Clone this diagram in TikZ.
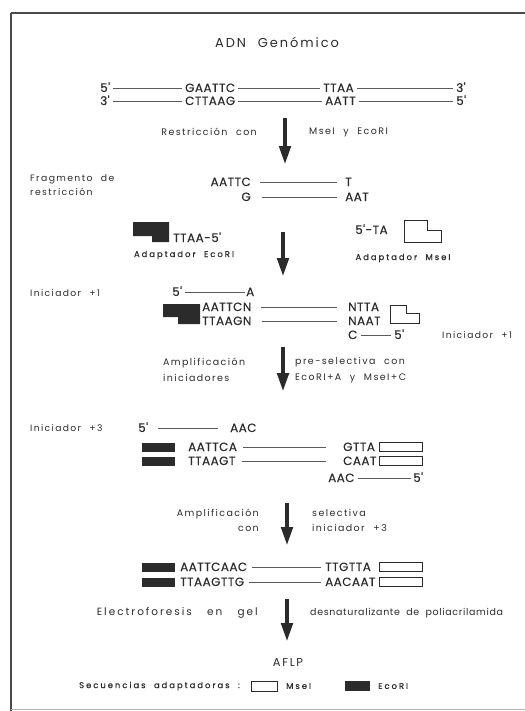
\documentclass[tikz,border=0pt]{standalone}
\usepackage{fontspec}
\setmainfont{Poppins}
\newfontfamily\seqfam[LetterSpace=4, FakeBold=0.3]{Poppins}
\newfontfamily\labfam[LetterSpace=15, WordSpace=2.2]{Poppins}
\newfontfamily\labwide[LetterSpace=19, WordSpace=3.2]{Poppins}
\newfontfamily\labnarrow[LetterSpace=7, WordSpace=2]{Poppins}
\newfontfamily\tagfam[LetterSpace=24, WordSpace=2, FakeBold=0.6]{Poppins}
\usetikzlibrary{arrows.meta, positioning, calc}
\definecolor{ink}{HTML}{2B2B2B}
\definecolor{strandc}{HTML}{5A5A5A}
\definecolor{frameC}{HTML}{4A4A4A}
\tikzset{
  % DNA sequence text (strand ends sit at mid cap height)
  seq/.style={inner sep=0pt, text height=8bp, text depth=0pt,
    font=\seqfam\fontsize{12}{14}\selectfont, text=ink},
  % step labels, one or two lines
  lab/.style={inner sep=0pt, align=left,
    font=\labfam\fontsize{9.5}{15}\selectfont, text=ink},
  % small captions (adaptors, legend)
  tag/.style={inner sep=0pt, font=\tagfam\fontsize{8.4}{10}\selectfont, text=ink},
  strand/.style={draw=strandc, line width=0.7bp, shorten <=3bp, shorten >=3bp},
  flow/.style={draw=ink, line width=4.5bp, -{Triangle[length=19bp,width=11bp]}},
  % adaptor shapes (EcoRI = filled, MseI = open)
  eco/.style={fill=ink},
  mse/.style={draw=ink, line width=0.8bp, fill=white},
  ecobar/.style={fill=ink, minimum width=33bp, minimum height=9bp, inner sep=0pt},
  msebox/.style={draw=ink, line width=0.8bp, minimum width=43bp, minimum height=9bp, inner sep=0pt},
}

\begin{document}
\begin{tikzpicture}[x=1bp, y=-1bp]
\useasboundingbox (0,0) rectangle (525,711);

% ── frame ────────────────────────────────────────────────
\draw[frameC, line width=1.4bp] (11,13) -- (525,13);
\draw[frameC, line width=2.4bp] (11,13) -- (11,711);
\draw[frameC!40, line width=0.8bp] (11,709) -- (525,709);

\node[font=\labfam\fontsize{13}{15}\selectfont, text=ink] (title) at (277,42) {ADN Genómico};

% ── genomic DNA ──────────────────────────────────────────
\node[seq, anchor=west] (s1a) at (100,88) {5'};
\node[seq, anchor=west] (s1b) at (185,88) {GAATTC};
\node[seq, anchor=west] (s1c) at (323,88) {TTAA};
\node[seq, anchor=west] (s1d) at (456,88) {3'};
\node[seq, anchor=west] (s2a) at (100,101) {3'};
\node[seq, anchor=west] (s2b) at (185,101) {CTTAAG};
\node[seq, anchor=west] (s2c) at (325,101) {AATT};
\node[seq, anchor=west] (s2d) at (456,101) {5'};
\draw[strand] (s1a) -- (s1b);
\draw[strand] (s1b) -- (s1c);
\draw[strand] (s1c) -- (s1d);
\draw[strand] (s2a) -- (s2b);
\draw[strand] (s2b) -- (s2c);
\draw[strand] (s2c) -- (s2d);

\coordinate (a1s) at (285,118);
\coordinate (a1e) at (285,165);
\draw[flow] (a1s) -- (a1e);
\node[lab, anchor=east] (r1L) at (257,132) {Restricción con};
\node[lab, anchor=west] (r1R) at (309,132) {MseI y EcoRI};

% ── restriction fragment ─────────────────────────────────
\node[lab, anchor=west, font=\labfam\fontsize{9.3}{14}\selectfont] (fragL) at (30,185) {Fragmento de\\restricción};
\node[seq, anchor=east] (f1a) at (251,182) {AATTC};
\node[seq, anchor=west] (f1b) at (345,182) {T};
\node[seq, anchor=east] (f2a) at (251,197) {G};
\node[seq, anchor=west] (f2b) at (345,197) {AAT};
\draw[strand, shorten <=9bp, shorten >=8bp] (f1a) -- (f1b);
\draw[strand, shorten <=11bp, shorten >=8bp] (f2a) -- (f2b);

% adaptors
\fill[eco] (133,222) -- (169,222) -- (169,242) -- (152,242) -- (152,236) -- (133,236) -- cycle;
\node[seq, anchor=west] (ecoT) at (173,238) {TTAA-5'};
\node[tag] (ecoA) at (184,255) {Adaptador EcoRI};
\node[seq, anchor=west] (mseT) at (355,230) {5'-TA};
\draw[mse] (404,220) -- (427,220) -- (427,230) -- (441,230) -- (441,242) -- (404,242) -- cycle;
\node[tag] (mseA) at (403,258) {Adaptador MseI};

\coordinate (a2s) at (283,232);
\coordinate (a2e) at (283,277);
\draw[flow] (a2s) -- (a2e);

% ── pre-selective primer +1 ──────────────────────────────
\node[lab, anchor=west, font=\labfam\fontsize{9.2}{15}\selectfont] (ini1L) at (30,293) {Iniciador +1};
\node[seq, anchor=west] (p1a) at (172,292) {5'};
\node[seq, anchor=west] (p1b) at (246,292) {A};
\draw[strand, shorten >=1bp] (p1a) -- (p1b);
\fill[eco] (163,304) -- (200,304) -- (200,324) -- (178,324) -- (178,317) -- (163,317) -- cycle;
\node[seq, anchor=west] (p2a) at (202,307) {AATTCN};
\node[seq, anchor=west] (p2b) at (348,307) {NTTA};
\node[seq, anchor=west] (p3a) at (202,321) {TTAAGN};
\node[seq, anchor=west] (p3b) at (348,321) {NAAT};
\draw[strand, shorten <=10bp, shorten >=11bp] (p2a) -- (p2b);
\draw[strand, shorten <=10bp, shorten >=11bp] (p3a) -- (p3b);
\draw[mse] (390,305) -- (406,305) -- (406,313) -- (419,313) -- (419,323) -- (390,323) -- cycle;
\node[seq, anchor=west] (p4a) at (348,335) {C};
\node[seq, anchor=west] (p4b) at (394,335) {5'};
\draw[strand] (p4a) -- (p4b);
\node[lab, anchor=west, font=\labfam\fontsize{9.2}{15}\selectfont] (ini1R) at (442,335) {Iniciador +1};

\coordinate (a3s) at (283,347);
\coordinate (a3e) at (283,392);
\draw[flow] (a3s) -- (a3e);
\node[lab, anchor=west, font=\labfam\fontsize{9.5}{16}\selectfont] (am1L) at (163,370) {Amplificación\\iniciadores};
\node[lab, anchor=west, font=\labfam\fontsize{9.5}{16}\selectfont] (am1R) at (295,370) {pre-selectiva con\\EcoRI+A y MseI+C};

% ── selective primer +3 ──────────────────────────────────
\node[lab, anchor=west, font=\labfam\fontsize{9.2}{15}\selectfont] (ini3L) at (30,428) {Iniciador +3};
\node[seq, anchor=west] (q1a) at (138,428) {5'};
\node[seq, anchor=west] (q1b) at (230,428) {AAC};
\draw[strand, shorten <=10bp, shorten >=12bp] (q1a) -- (q1b);
\node[ecobar, anchor=west] (eb1) at (142,447) {};
\node[ecobar, anchor=west] (eb2) at (142,461) {};
\node[seq, anchor=west] (q2a) at (188,447) {AATTCA};
\node[seq, anchor=west] (q2b) at (343,447) {GTTA};
\node[seq, anchor=west] (q3a) at (188,461) {TTAAGT};
\node[seq, anchor=west] (q3b) at (343,461) {CAAT};
\draw[strand, shorten <=6bp, shorten >=17bp] (q2a) -- (q2b);
\draw[strand, shorten <=6bp, shorten >=17bp] (q3a) -- (q3b);
\node[msebox, anchor=west] (mb1) at (379,447) {};
\node[msebox, anchor=west] (mb2) at (379,461) {};
\node[seq, anchor=west] (q4a) at (328,478) {AAC};
\node[seq, anchor=west] (q4b) at (413,478) {5'};
\draw[strand, shorten >=2bp] (q4a) -- (q4b);

\coordinate (a4s) at (287,503);
\coordinate (a4e) at (287,546);
\draw[flow] (a4s) -- (a4e);
\node[lab, anchor=east, align=right] (am2L) at (259,520) {Amplificación\\con};
\node[lab, anchor=west] (am2R) at (312,520) {selectiva\\iniciador +3};

% ── selective amplification product ──────────────────────
\node[ecobar, anchor=west] (eb3) at (142,567) {};
\node[ecobar, anchor=west] (eb4) at (142,582) {};
\node[seq, anchor=west] (t1a) at (180,567) {AATTCAAC};
\node[seq, anchor=west] (t1b) at (325,567) {TTGTTA};
\node[seq, anchor=west] (t2a) at (180,582) {TTAAGTTG};
\node[seq, anchor=west] (t2b) at (325,582) {AACAAT};
\draw[strand, shorten <=5bp, shorten >=4bp] (t1a) -- (t1b);
\draw[strand, shorten <=5bp, shorten >=4bp] (t2a) -- (t2b);
\node[msebox, anchor=west] (mb3) at (379,567) {};
\node[msebox, anchor=west] (mb4) at (379,582) {};

\coordinate (a5s) at (287,599);
\coordinate (a5e) at (287,642);
\draw[flow] (a5s) -- (a5e);
\node[lab, anchor=east, font=\labwide\fontsize{10.5}{15}\selectfont] (elL) at (258,613) {Electroforesis en gel};
\node[lab, anchor=west, font=\labnarrow\fontsize{9.5}{15}\selectfont] (elR) at (310,613) {desnaturalizante de poliacrilamida};

\node[font=\labfam\fontsize{11.5}{13}\selectfont, text=ink] (aflp) at (288,662) {AFLP};

% ── legend ───────────────────────────────────────────────
\node[tag, anchor=west] (legT) at (79,686) {Secuencias adaptadoras :};
\node[msebox, minimum width=26bp, minimum height=10bp, anchor=west] (legM) at (251,686) {};
\node[tag, anchor=west] (legMt) at (286,686) {MseI};
\node[ecobar, minimum width=25bp, minimum height=10bp, anchor=west] (legE) at (345,686) {};
\node[tag, anchor=west] (legEt) at (378,686) {EcoRI};

\end{tikzpicture}
\end{document}
